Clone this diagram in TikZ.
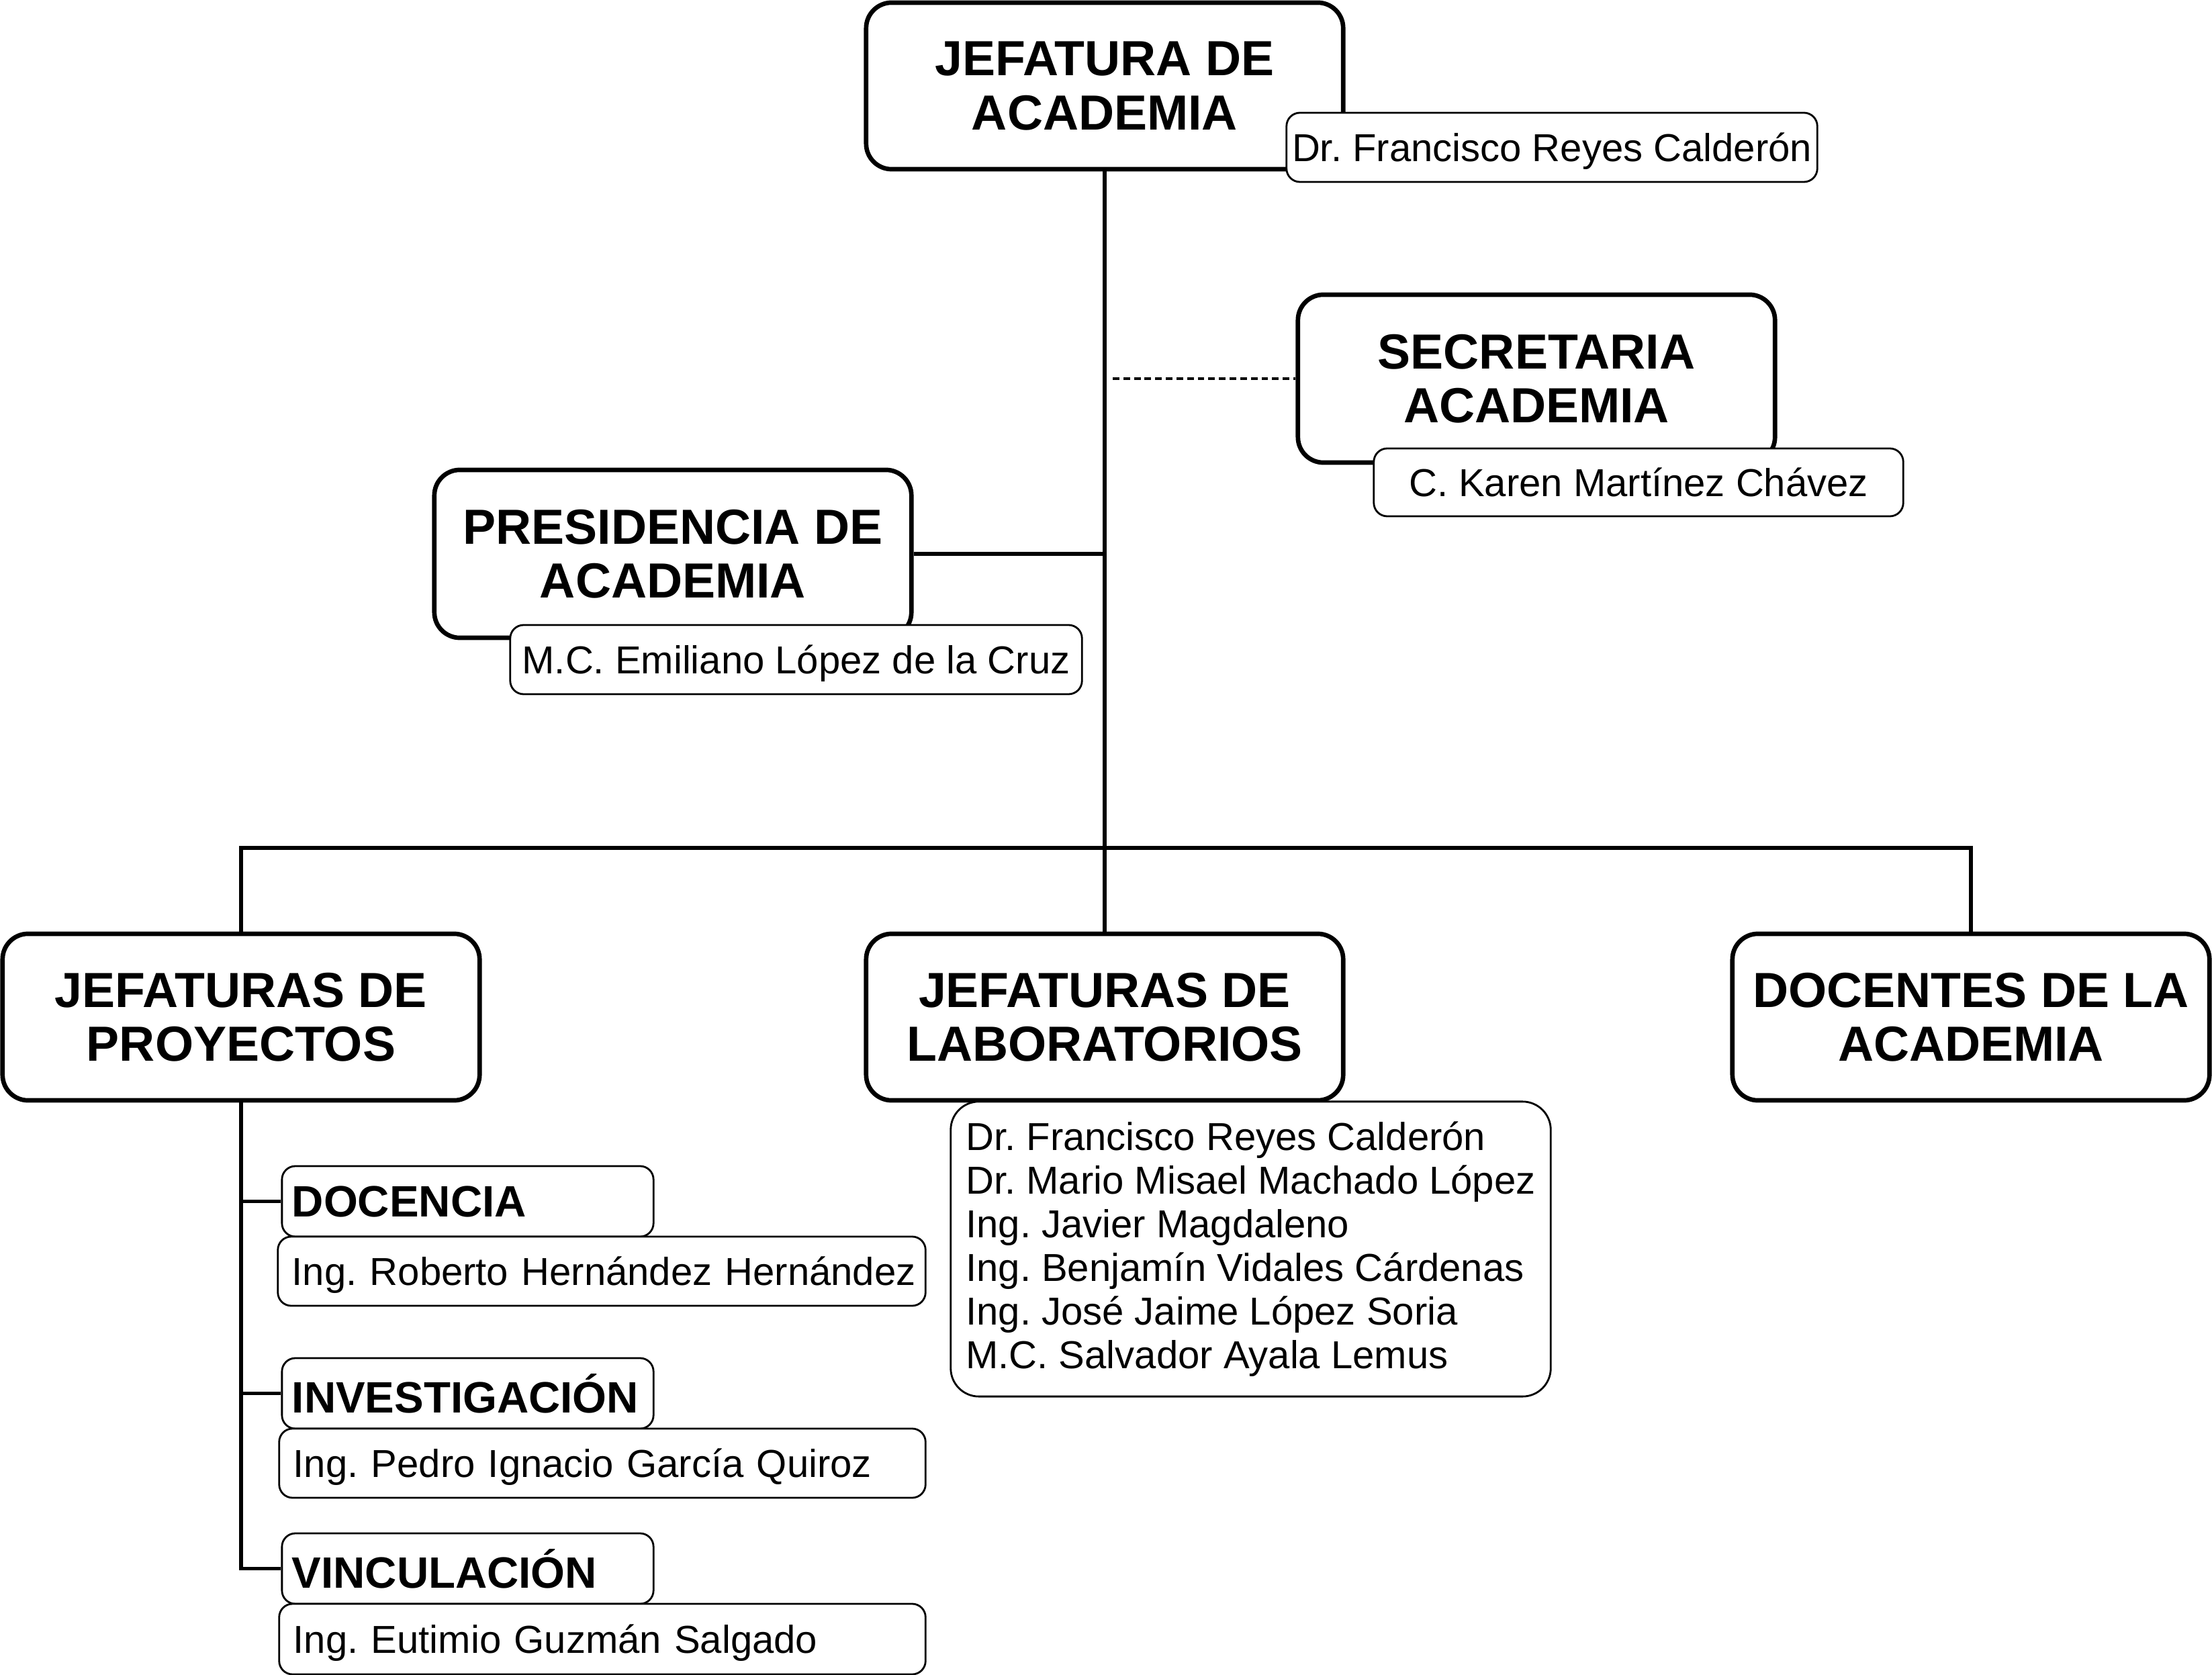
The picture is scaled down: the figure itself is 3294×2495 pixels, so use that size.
\documentclass[tikz,border=0pt]{standalone}
\usepackage{fontspec}
\setmainfont{Liberation Sans}
\frenchspacing
\begin{document}
\begin{tikzpicture}[x=0.01cm,y=-0.01cm,
 bigbox/.style={draw, line width=1.9pt, rounded corners=0.38cm, fill=white, minimum width=7.1cm, minimum height=2.48cm, align=center, font=\fontsize{20.9}{22.8}\selectfont\bfseries, inner sep=0pt},
 namebox/.style={draw, line width=0.8pt, rounded corners=0.2cm, fill=white, minimum height=1.03cm, align=center, font=\fontsize{16.5}{18.5}\selectfont, inner sep=0pt, text depth=0pt},
 subname/.style={namebox, text width=9.22cm, inner xsep=0.21cm, inner ysep=0pt, align=left},
 sublabel/.style={draw, line width=0.8pt, rounded corners=0.2cm, fill=white, text width=5.23cm, inner xsep=0.15cm, inner ysep=0pt, minimum height=1.05cm, align=left, font=\fontsize{18.6}{20}\selectfont\bfseries},
 conn/.style={line width=1.6pt},
 dashconn/.style={line width=1.3pt, dash pattern=on 2.8pt off 1.7pt}
]
\useasboundingbox (0,0) rectangle (3294,2495);
% main boxes
\node[bigbox] (JA) at (1645,128) {JEFATURA DE\\ACADEMIA};
\node[bigbox, minimum height=2.5cm] (SEC) at (2288,564) {SECRETARIA\\ACADEMIA};
\node[bigbox, minimum height=2.5cm] (PRES) at (1002,825) {PRESIDENCIA DE\\ACADEMIA};
\node[bigbox] (PROY) at (359,1515) {JEFATURAS DE\\PROYECTOS};
\node[bigbox] (LAB) at (1645,1515) {JEFATURAS DE\\LABORATORIOS};
\node[bigbox] (DOCE) at (2935,1515) {DOCENTES DE LA\\ACADEMIA};
% name boxes
\node[namebox, minimum width=7.9cm] (JAn) at (2311,219.5) {Dr. Francisco Reyes Calderón};
\node[namebox, minimum width=7.88cm, minimum height=1.01cm] (SECn) at (2440,718.5) {C. Karen Martínez Chávez};
\node[namebox, minimum width=8.51cm] (PRESn) at (1185.5,982.5) {M.C. Emiliano López de la Cruz};
\node[draw, line width=0.8pt, rounded corners=0.42cm, fill=white, minimum width=8.93cm, inner sep=0pt, minimum height=4.39cm, align=left, font=\fontsize{16.5}{18.5}\selectfont] (LABn) at (1862.5,1860.5) {Dr. Francisco Reyes Calderón\\Dr. Mario Misael Machado López\\Ing. Javier Magdaleno\\Ing. Benjamín Vidales Cárdenas\\Ing. José Jaime López Soria\\M.C. Salvador Ayala Lemus};
% sub areas
\node[sublabel] (DOC) at (696.5,1789.5) {\mbox{DOCENCIA}};
\node[subname] (DOCn) at (896,1893.5) {\mbox{Ing. Roberto Hernández Hernández}};
\node[sublabel] (INV) at (696.5,2075.5) {\mbox{INVESTIGACIÓN}};
\node[subname, text width=9.2cm] (INVn) at (897,2179.5) {\mbox{Ing. Pedro Ignacio García Quiroz}};
\node[sublabel] (VIN) at (696.5,2336.5) {\mbox{VINCULACIÓN}};
\node[subname, text width=9.2cm, minimum height=1.05cm] (VINn) at (897,2441.5) {\mbox{Ing. Eutimio Guzmán Salgado}};
% connectors
\coordinate (bus) at (1645,1263);
\coordinate (dst) at (1657,564);
\draw[conn] (JA.south) -- (LAB.north);
\draw[conn] (PRES.east) -- (PRES.east -| JA.south);
\draw[dashconn] (dst) -- (dst -| SEC.west);
\draw[conn] (PROY.north) |- (bus) -| (DOCE.north);
\draw[conn] (PROY.south) |- (DOC.west);
\draw[conn] (PROY.south) |- (INV.west);
\draw[conn] (PROY.south) |- (VIN.west);
\end{tikzpicture}
\end{document}
